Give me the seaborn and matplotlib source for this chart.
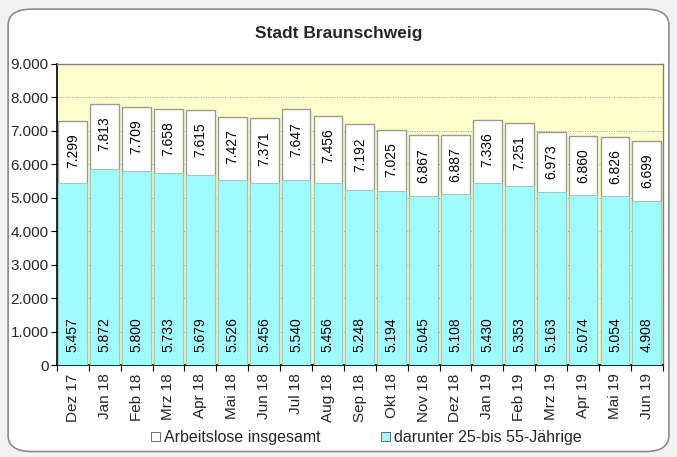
import matplotlib
matplotlib.use("Agg")
import matplotlib.pyplot as plt
import seaborn as sns
import pandas as pd
import numpy as np
from matplotlib.patches import FancyBboxPatch, Patch

months = ["Dez 17", "Jan 18", "Feb 18", "Mrz 18", "Apr 18", "Mai 18", "Jun 18",
          "Jul 18", "Aug 18", "Sep 18", "Okt 18", "Nov 18", "Dez 18", "Jan 19",
          "Feb 19", "Mrz 19", "Apr 19", "Mai 19", "Jun 19"]
total = [7299, 7813, 7709, 7658, 7615, 7427, 7371, 7647, 7456, 7192, 7025,
         6867, 6887, 7336, 7251, 6973, 6860, 6826, 6699]
age_25_55 = [5457, 5872, 5800, 5733, 5679, 5526, 5456, 5540, 5456, 5248, 5194,
             5045, 5108, 5430, 5353, 5163, 5074, 5054, 4908]
y_ticks = [0, 1000, 2000, 3000, 4000, 5000, 6000, 7000, 8000, 9000]

df = pd.DataFrame({"Monat": months, "gesamt": total, "u55": age_25_55})

sns.set_theme(style="white")
plt.rcParams["font.family"] = ["Liberation Sans", "DejaVu Sans"]

fig = plt.figure(figsize=(6.77, 4.57), dpi=100)
fig.patch.set_facecolor("#f2f2f2")
frame = FancyBboxPatch((0.012, 0.012), 0.976, 0.968,
                       boxstyle="round,pad=0,rounding_size=0.035",
                       transform=fig.transFigure, facecolor="white",
                       edgecolor="#8c8c8c", linewidth=1.2, zorder=-10)
fig.patches.append(frame)

ax = fig.add_axes([0.084, 0.201, 0.895, 0.659])
ax.set_facecolor("#ffffcc")

for v in y_ticks[1:-1]:
    ax.axhline(v, color="#9a9a9a", linestyle=(0, (1, 1.5)), linewidth=0.7, zorder=0.5)

sns.barplot(data=df, x="Monat", y="gesamt", color="white", edgecolor="#9a9a9a",
            linewidth=1.0, width=0.9, saturation=1, ax=ax, zorder=2)
sns.barplot(data=df, x="Monat", y="u55", color="#9ffcfc", edgecolor="#8fcfcf",
            linewidth=0.8, width=0.9, saturation=1, ax=ax, zorder=3)

fmt = lambda v: f"{v:,}".replace(",", ".")

for i, (t, s) in enumerate(zip(total, age_25_55)):
    ax.annotate(fmt(t), xy=(i, t), xytext=(0, -9),
                textcoords="offset points", ha="center", va="top",
                rotation=90, fontsize=10, color="black", zorder=5)
    ax.text(i, 380, fmt(s), ha="center", va="bottom",
            rotation=90, fontsize=10, color="black", zorder=5)

ax.set_xlim(-0.5, len(months) - 0.5)
ax.set_ylim(0, 9000)
ax.set_yticks(y_ticks)
ax.set_yticklabels([fmt(v) for v in y_ticks], fontsize=11)
ax.set_xticks(range(len(months)))
ax.set_xticklabels(months, rotation=90, fontsize=11)
ax.set_xticks(np.arange(-0.5, len(months)), minor=True)
ax.tick_params(axis="x", which="major", length=0, pad=6)
ax.tick_params(axis="x", which="minor", length=4, width=0.8, color="black", direction="out", bottom=True)
ax.tick_params(axis="y", length=4, width=0.8, color="black", direction="out", left=True, pad=2)
ax.set_xlabel("")
ax.set_ylabel("")

for side in ["top", "right"]:
    ax.spines[side].set_color("#808080")
    ax.spines[side].set_linewidth(1.0)
for side in ["left", "bottom"]:
    ax.spines[side].set_color("black")
    ax.spines[side].set_linewidth(1.2)

fig.text(0.5, 0.926, "Stadt Braunschweig", ha="center", va="center",
         fontsize=12.5, fontweight="bold")

handles = [Patch(facecolor="white", edgecolor="#555555", linewidth=0.6),
           Patch(facecolor="#9ffcfc", edgecolor="#555555", linewidth=0.6)]
fig.legend(handles, ["Arbeitslose insgesamt", "darunter 25-bis 55-Jährige"],
           loc="center", bbox_to_anchor=(0.541, 0.042), ncol=2, frameon=False,
           fontsize=11.5, handlelength=0.55, handleheight=0.55, handletextpad=0.25,
           columnspacing=3.8)

fig.savefig("out.png", dpi=100, facecolor=fig.get_facecolor())
